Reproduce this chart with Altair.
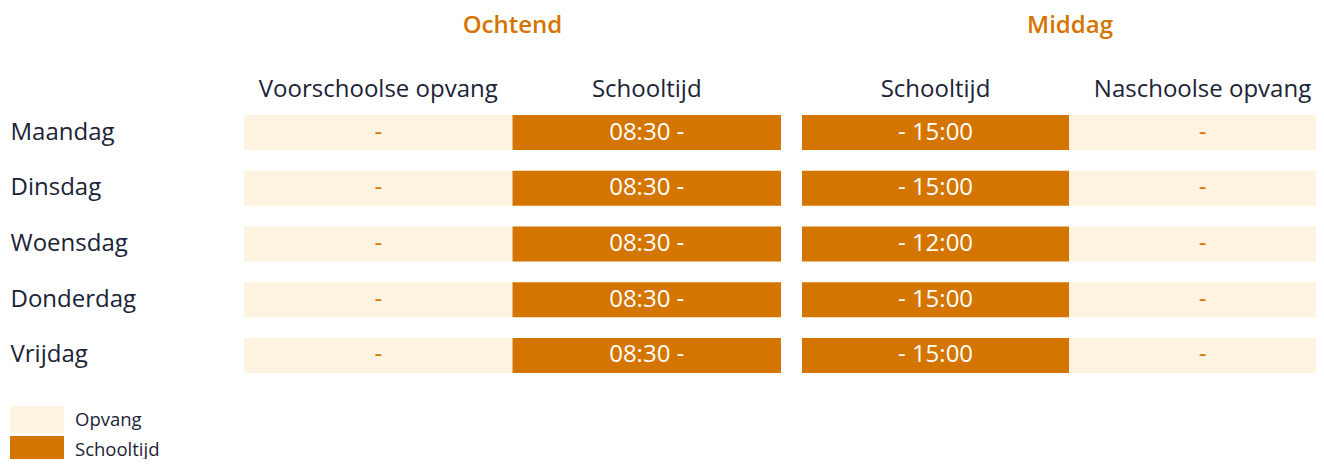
import altair as alt
import pandas as pd

days = ["Maandag", "Dinsdag", "Woensdag", "Donderdag", "Vrijdag"]
morning_cols = ["Voorschoolse opvang", "Schooltijd"]
afternoon_cols = ["Schooltijd", "Naschoolse opvang"]
voorschoolse = ["-", "-", "-", "-", "-"]
school_start = ["08:30 -", "08:30 -", "08:30 -", "08:30 -", "08:30 -"]
school_end = ["- 15:00", "- 15:00", "- 12:00", "- 15:00", "- 15:00"]
naschoolse = ["-", "-", "-", "-", "-"]
types = ["Opvang", "Schooltijd"]
colors = ["#FEF3E1", "#D47500"]

DARK = "#1B2336"
ORANGE = "#D47500"
FONT = "Open Sans"


def build(cols, values, col_types):
    rows = []
    for c, vals, t in zip(cols, values, col_types):
        for d, v in zip(days, vals):
            rows.append({"day": d, "col": c, "text": v, "type": t})
    return pd.DataFrame(rows)


df_m = build(morning_cols, [voorschoolse, school_start], ["Opvang", "Schooltijd"])
df_a = build(afternoon_cols, [school_end, naschoolse], ["Schooltijd", "Opvang"])


def panel(df, cols, title, show_y, width, xrange=None, title_dx=0):
    if xrange is not None:
        xscale = alt.Scale(paddingInner=0, paddingOuter=0, range=xrange)
    else:
        xscale = alt.Scale(paddingInner=0, paddingOuter=0)
    x = alt.X("col:N", sort=cols, scale=xscale,
              axis=alt.Axis(orient="top", title=None, labelAngle=0, domain=False,
                            ticks=False, labelFontSize=24, labelColor=DARK,
                            labelFont=FONT, labelPadding=13.5, labelLimit=400))
    if show_y:
        yaxis = alt.Axis(title=None, domain=False, ticks=False, labelAlign="left",
                         labelPadding=234, labelFontSize=24, labelColor=DARK,
                         labelFont=FONT, labelLimit=300)
    else:
        yaxis = None
    y = alt.Y("day:N", sort=days,
              scale=alt.Scale(paddingInner=0.372, paddingOuter=0), axis=yaxis)
    base = alt.Chart(df)
    bars = base.mark_rect().encode(
        x=x, y=y,
        color=alt.Color("type:N", scale=alt.Scale(domain=types, range=colors),
                        title=None),
    )
    txt = base.mark_text(fontSize=24, font=FONT).encode(
        x=x, y=y, text="text:N",
        color=alt.condition(alt.datum.type == "Schooltijd",
                            alt.value("white"), alt.value(ORANGE)),
    )
    return alt.layer(bars, txt).properties(
        width=width, height=258,
        title=alt.TitleParams(title, fontSize=24, font=FONT, fontWeight=600,
                              color=ORANGE, anchor="middle", offset=39.5,
                              dx=title_dx),
    )


chart = alt.hconcat(
    panel(df_m, morning_cols, "Ochtend", True, 537),
    panel(df_a, afternoon_cols, "Middag", False, 514, xrange=[0, 534], title_dx=11),
    spacing=21,
).properties(
    padding={"left": 2, "top": 6, "right": -20, "bottom": -4}
).configure_view(stroke=None).configure_legend(
    orient="none", legendX=-234, legendY=291, direction="vertical",
    symbolType="M-1,-0.5H1V0.5H-1Z", symbolSize=2916, clipHeight=27,
    rowPadding=3, labelFontSize=18.5, labelFont=FONT, labelColor=DARK,
    labelOffset=11, symbolStrokeWidth=0, symbolOpacity=1,
)

chart.save("out.html", embed_options={"renderer": "svg", "actions": False})
